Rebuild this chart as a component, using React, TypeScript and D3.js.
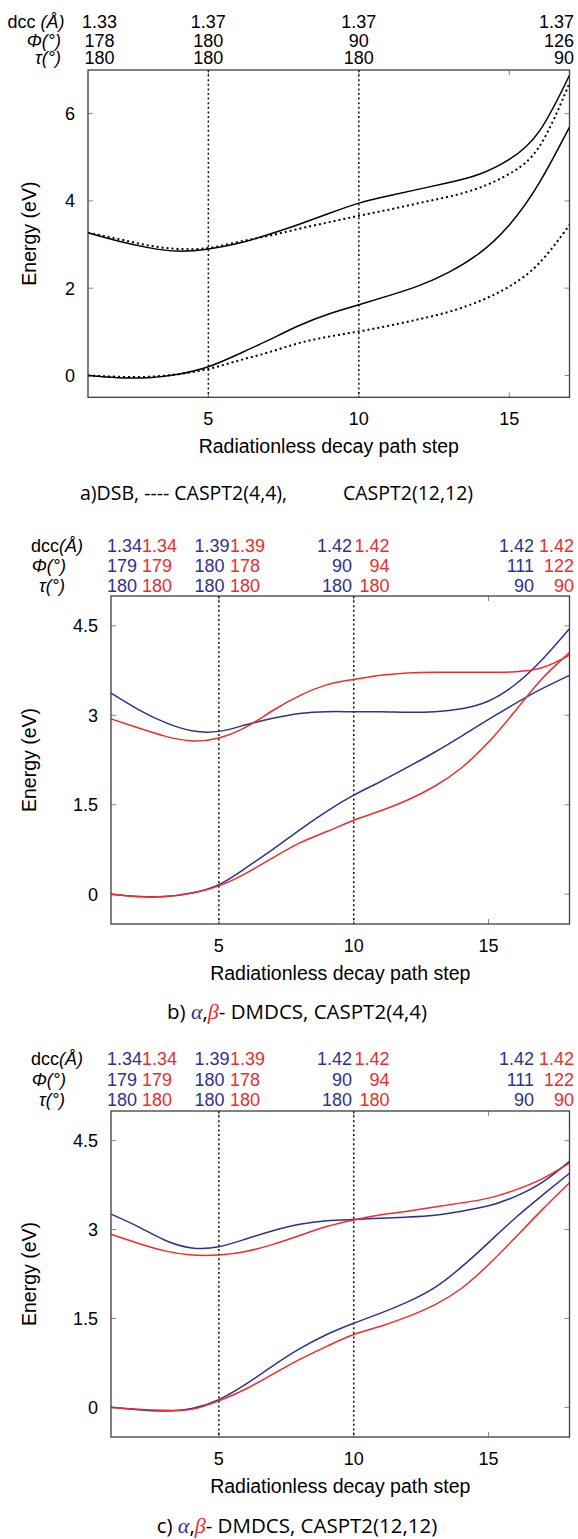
import React from 'react';
import * as d3 from 'd3';

// ---------- data ----------
const stepsA = [1, 2, 3, 4, 5, 6, 7, 8, 9, 10, 11, 12, 13, 14, 15, 16, 17];
const aSolidUpper = [3.27, 3.08, 2.93, 2.85, 2.9, 3.03, 3.23, 3.46, 3.71, 3.95, 4.12, 4.27, 4.42, 4.61, 4.95, 5.6, 6.88];
const aDottedUpper = [3.27, 3.13, 2.98, 2.9, 2.92, 3.06, 3.2, 3.36, 3.51, 3.66, 3.8, 3.95, 4.1, 4.3, 4.62, 5.25, 6.7];
const aSolidLower = [0, -0.05, -0.05, 0.03, 0.2, 0.49, 0.81, 1.14, 1.41, 1.62, 1.83, 2.06, 2.37, 2.8, 3.45, 4.42, 5.69];
const aDottedLower = [0, -0.03, -0.03, 0.03, 0.15, 0.34, 0.53, 0.74, 0.89, 1.01, 1.14, 1.29, 1.46, 1.7, 2.04, 2.58, 3.45];

const stepsBC = [1, 2, 3, 4, 5, 6, 7, 8, 9, 10, 11, 12, 13, 14, 15, 16, 17, 18];
const bBlueUpper = [3.37, 3.1, 2.88, 2.74, 2.73, 2.84, 2.95, 3.03, 3.06, 3.06, 3.06, 3.05, 3.06, 3.11, 3.24, 3.52, 3.94, 4.45];
const bRedUpper = [2.94, 2.79, 2.65, 2.57, 2.62, 2.8, 3.08, 3.33, 3.51, 3.6, 3.67, 3.71, 3.72, 3.72, 3.72, 3.73, 3.8, 4.01];
const bBlueLower = [0, -0.04, -0.04, 0.02, 0.16, 0.44, 0.75, 1.08, 1.39, 1.66, 1.89, 2.13, 2.38, 2.65, 2.93, 3.2, 3.45, 3.67];
const bRedLower = [0, -0.04, -0.04, 0.02, 0.14, 0.35, 0.61, 0.86, 1.05, 1.24, 1.4, 1.58, 1.81, 2.12, 2.55, 3.08, 3.62, 4.05];

const cBlueUpper = [3.26, 3.05, 2.82, 2.69, 2.71, 2.84, 2.98, 3.09, 3.15, 3.17, 3.19, 3.21, 3.24, 3.31, 3.4, 3.56, 3.8, 4.15];
const cRedUpper = [2.92, 2.77, 2.64, 2.57, 2.57, 2.63, 2.75, 2.9, 3.05, 3.16, 3.25, 3.31, 3.38, 3.45, 3.53, 3.67, 3.86, 4.12];
const cBlueLower = [0, -0.04, -0.06, -0.02, 0.13, 0.39, 0.7, 0.99, 1.23, 1.42, 1.59, 1.78, 2.02, 2.37, 2.78, 3.2, 3.58, 3.95];
const cRedLower = [0, -0.03, -0.05, -0.03, 0.11, 0.31, 0.56, 0.81, 1.03, 1.23, 1.37, 1.53, 1.73, 2.01, 2.41, 2.87, 3.34, 3.79];

const xTicks = [5, 10, 15];
const markedSteps = [5, 10];
const yTicksA = [0, 2, 4, 6];
const yTicksBC = [0, 1.5, 3, 4.5];

const aDcc = ['1.33', '1.37', '1.37', '1.37'];
const aPhi = ['178', '180', '90', '126'];
const aTau = ['180', '180', '180', '90'];

const bcBlueDcc = ['1.34', '1.39', '1.42', '1.42'];
const bcRedDcc = ['1.34', '1.39', '1.42', '1.42'];
const bcBluePhi = ['179', '180', '90', '111'];
const bcRedPhi = ['179', '178', '94', '122'];
const bcBlueTau = ['180', '180', '180', '90'];
const bcRedTau = ['180', '180', '180', '90'];

// ---------- style ----------
const BLUE = '#2e3192';
const RED = '#ef2b2b';
const SANS = '"Liberation Sans", Arial, Helvetica, sans-serif';
const CAP = '"Open Sans", "Noto Sans", sans-serif';
const SERIF = '"Liberation Serif", "DejaVu Serif", serif';
const NUM = 18;
const TITLE = 19.5;

type Series = { values: number[]; color: string; dotted?: boolean };
type Cell = { text: string; color: string; x: number; anchor: string };

function RowLabel({ kind, x, y }: { kind: number; x: number; y: number }) {
  if (kind === 0)
    return (
      <text x={x} y={y} textAnchor="end" fontFamily={SANS} fontSize={NUM}>
        dcc<tspan fontStyle="italic">{'(Å)'}</tspan>
      </text>
    );
  return (
    <text x={x} y={y} textAnchor="end" fontFamily={SANS} fontSize={NUM} fontStyle="italic">
      {kind === 1 ? 'Φ(°)' : 'τ(°)'}
    </text>
  );
}

function Panel(props: {
  left: number; right: number; top: number; bottom: number;
  steps: number[]; xMax: number; yMax: number; yTicks: number[];
  series: Series[];
  rowLabelX: number[]; rowY: number[]; cells: Cell[][];
  spaceInLabel?: boolean;
}) {
  const { left, right, top, bottom, steps, xMax, yMax, yTicks, series, rowLabelX, rowY, cells } = props;
  const x = d3.scaleLinear().domain([1, xMax]).range([left, right]);
  const y = d3.scaleLinear().domain([-0.5, yMax]).range([bottom, top]);
  const line = d3
    .line<number>()
    .x((_, i) => x(steps[i]))
    .y((v) => y(v))
    .curve(d3.curveNatural);
  const tl = 5;
  return (
    <g>
      {/* header */}
      {rowY.map((ry, r) => (
        <g key={'row' + r}>
          {props.spaceInLabel && r === 0 ? (
            <text x={rowLabelX[r]} y={ry} textAnchor="end" fontFamily={SANS} fontSize={NUM}>
              {'dcc '}<tspan fontStyle="italic">{'(Å)'}</tspan>
            </text>
          ) : (
            <RowLabel kind={r} x={rowLabelX[r]} y={ry} />
          )}
          {cells[r].map((c, j) => (
            <text key={j} x={c.x} y={ry} textAnchor={c.anchor} fontFamily={SANS} fontSize={NUM} fill={c.color}>
              {c.text}
            </text>
          ))}
        </g>
      ))}
      {/* ticks */}
      {xTicks.map((t) => (
        <g key={'xt' + t}>
          <line x1={x(t)} x2={x(t)} y1={bottom} y2={bottom - tl} stroke="#888" strokeWidth={1} />
          <line x1={x(t)} x2={x(t)} y1={top} y2={top + tl} stroke="#888" strokeWidth={1} />
          <text x={x(t)} y={bottom + 28} textAnchor="middle" fontFamily={SANS} fontSize={NUM}>
            {t}
          </text>
        </g>
      ))}
      {yTicks.map((t) => (
        <g key={'yt' + t}>
          <line x1={left} x2={left + tl} y1={y(t)} y2={y(t)} stroke="#888" strokeWidth={1} />
          <line x1={right} x2={right - tl} y1={y(t)} y2={y(t)} stroke="#888" strokeWidth={1} />
          <text x={left - 13} y={y(t)} dy="0.36em" textAnchor="end" fontFamily={SANS} fontSize={NUM}>
            {String(t)}
          </text>
        </g>
      ))}
      {/* marked vertical lines */}
      {markedSteps.map((s) => (
        <line key={'v' + s} x1={x(s)} x2={x(s)} y1={top} y2={bottom} stroke="#111" strokeWidth={1.5} strokeDasharray="2,2.6" />
      ))}
      {/* curves */}
      {series.map((s, i) => (
        <path
          key={'s' + i}
          d={line(s.values) || ''}
          fill="none"
          stroke={s.color}
          strokeWidth={s.dotted ? 2 : 1.5}
          strokeDasharray={s.dotted ? '2,3' : undefined}
        />
      ))}
      {/* frame */}
      <rect x={left} y={top} width={right - left} height={bottom - top} fill="none" stroke="#3c3c3c" strokeWidth={1.3} />
      {/* axis titles */}
      <text x={(left + right) / 2} y={bottom + 56} textAnchor="middle" fontFamily={SANS} fontSize={TITLE}>
        Radiationless decay path step
      </text>
      <text
        transform={`translate(36,${(top + bottom) / 2}) rotate(-90)`}
        textAnchor="middle"
        fontFamily={SANS}
        fontSize={TITLE}
      >
        Energy (eV)
      </text>
    </g>
  );
}

function bcCells(): Cell[][] {
  const blue = [
    { x: 107, anchor: 'start' },
    { x: 194.5, anchor: 'start' },
    { x: 352, anchor: 'end' },
    { x: 534, anchor: 'end' },
  ];
  const red = [
    { x: 142, anchor: 'start' },
    { x: 230, anchor: 'start' },
    { x: 389.5, anchor: 'end' },
    { x: 574, anchor: 'end' },
  ];
  const rows = [
    [bcBlueDcc, bcRedDcc],
    [bcBluePhi, bcRedPhi],
    [bcBlueTau, bcRedTau],
  ];
  return rows.map(([b, r]) => [
    ...b.map((t, i) => ({ text: t, color: BLUE, ...blue[i] })),
    ...r.map((t, i) => ({ text: t, color: RED, ...red[i] })),
  ]);
}

export default function App() {
  const aLeft = 88;
  const aRight = 569.5;
  const ax = d3.scaleLinear().domain([1, 17]).range([aLeft, aRight]);
  const aPos = [
    { x: ax(1) + 11.5, anchor: 'middle' },
    { x: ax(5), anchor: 'middle' },
    { x: ax(10), anchor: 'middle' },
    { x: ax(17) + 4.5, anchor: 'end' },
  ];
  const aCells: Cell[][] = [aDcc, aPhi, aTau].map((row) =>
    row.map((t, i) => ({ text: t, color: '#000', ...aPos[i] }))
  );
  const cells = bcCells();

  return (
    <svg
      width={578}
      height={1539}
      viewBox="0 0 578 1539"
      style={{ position: 'absolute', left: 0, top: 0, background: '#fff' }}
    >
      <rect x={0} y={0} width={578} height={1539} fill="#fff" />
      <Panel
        left={aLeft} right={aRight} top={70} bottom={397.3}
        steps={stepsA} xMax={17} yMax={7} yTicks={yTicksA}
        series={[
          { values: aSolidUpper, color: '#000' },
          { values: aDottedUpper, color: '#000', dotted: true },
          { values: aSolidLower, color: '#000' },
          { values: aDottedLower, color: '#000', dotted: true },
        ]}
        rowLabelX={[64.5, 61, 61]} rowY={[28, 46.5, 63.5]} cells={aCells} spaceInLabel
      />
      <text x={80} y={500} fontFamily={CAP} fontSize={19.5}>
        a)DSB, ---- CASPT2(4,4),
        <tspan x={343}>CASPT2(12,12)</tspan>
      </text>

      <Panel
        left={111} right={569.5} top={596} bottom={924}
        steps={stepsBC} xMax={18} yMax={5} yTicks={yTicksBC}
        series={[
          { values: bBlueUpper, color: BLUE },
          { values: bRedUpper, color: RED },
          { values: bBlueLower, color: BLUE },
          { values: bRedLower, color: RED },
        ]}
        rowLabelX={[83, 66, 65]} rowY={[552, 572, 592]} cells={cells}
      />
      <text x={297} y={1019} textAnchor="middle" fontFamily={CAP} fontSize={20.5}>
        b){' '}
        <tspan fontFamily={SERIF} fontStyle="italic" fill={BLUE} fontSize={22}>α</tspan>
        ,
        <tspan fontFamily={SERIF} fontStyle="italic" fill={RED} fontSize={22}>β</tspan>
        - DMDCS, CASPT2(4,4)
      </text>

      <Panel
        left={111} right={569.5} top={1111} bottom={1437}
        steps={stepsBC} xMax={18} yMax={5} yTicks={yTicksBC}
        series={[
          { values: cBlueUpper, color: BLUE },
          { values: cRedUpper, color: RED },
          { values: cBlueLower, color: BLUE },
          { values: cRedLower, color: RED },
        ]}
        rowLabelX={[83, 66, 65]} rowY={[1065, 1085.5, 1105.5]} cells={cells}
      />
      <text x={297} y={1533} textAnchor="middle" fontFamily={CAP} fontSize={20.5}>
        c){' '}
        <tspan fontFamily={SERIF} fontStyle="italic" fill={BLUE} fontSize={22}>α</tspan>
        ,
        <tspan fontFamily={SERIF} fontStyle="italic" fill={RED} fontSize={22}>β</tspan>
        - DMDCS, CASPT2(12,12)
      </text>
    </svg>
  );
}
